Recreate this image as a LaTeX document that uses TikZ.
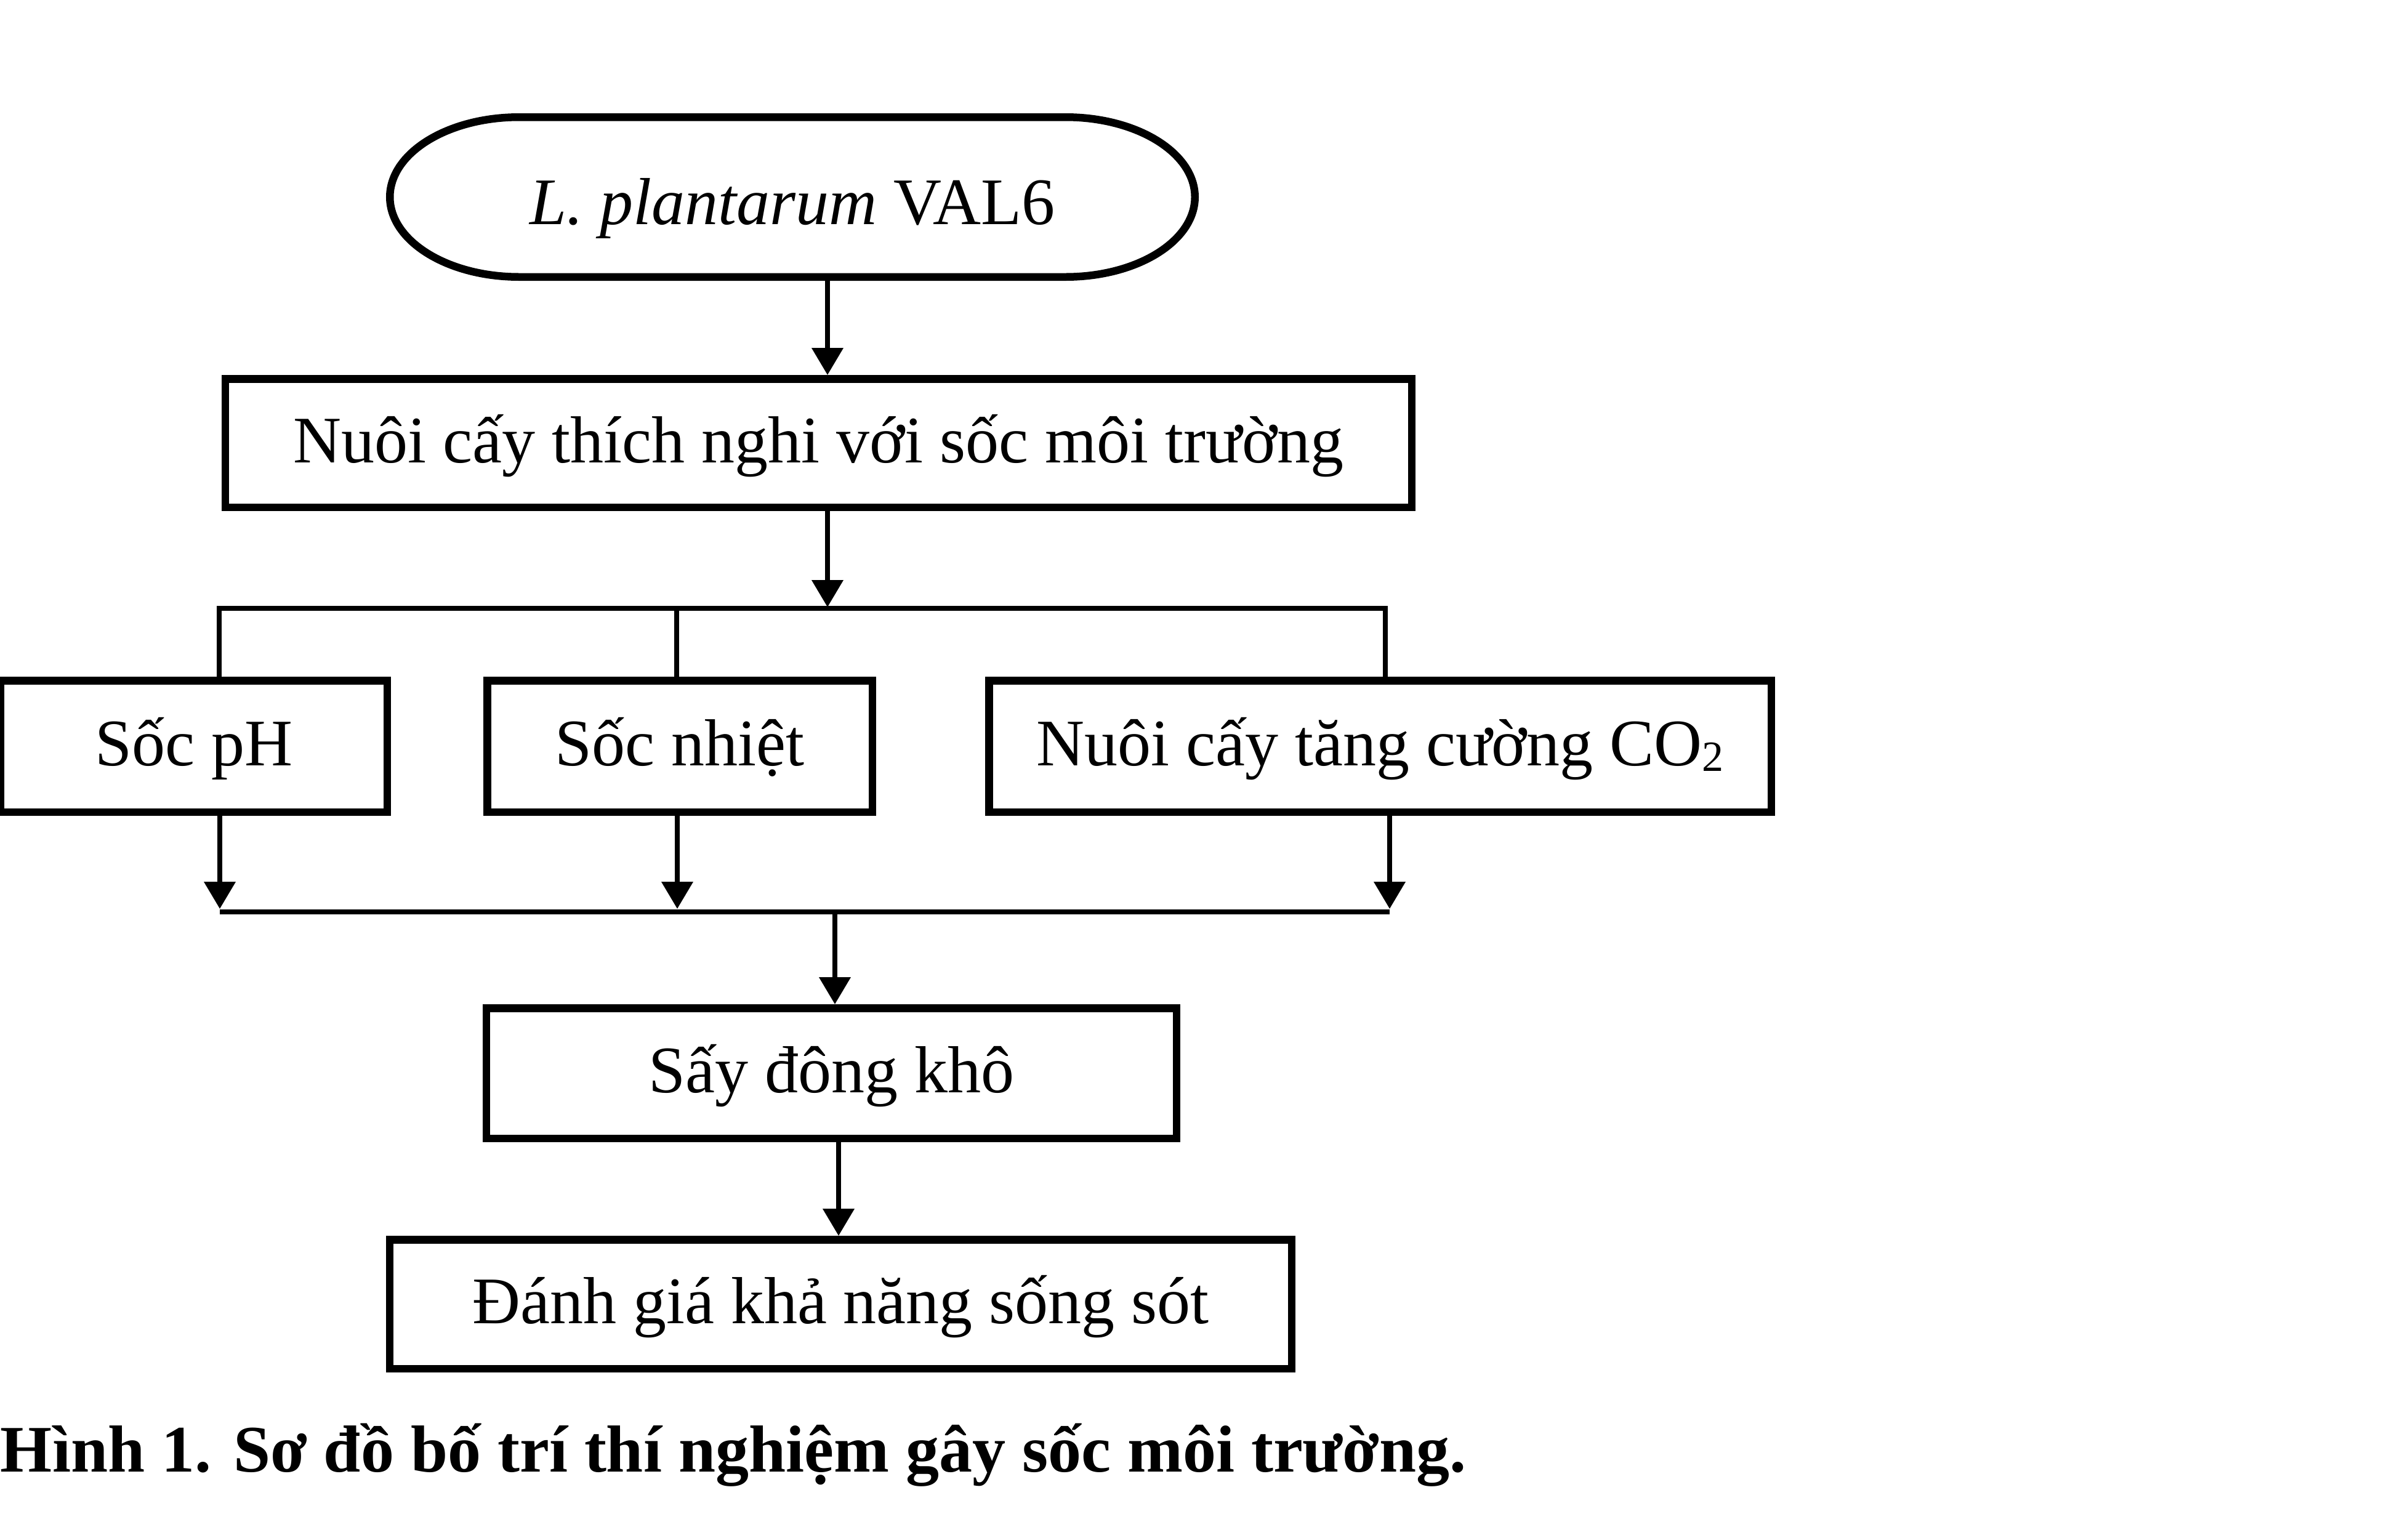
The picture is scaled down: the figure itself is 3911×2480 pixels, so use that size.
\documentclass[tikz,border=0pt]{standalone}
\usepackage{fontspec}
\setmainfont{Liberation Serif}
\usetikzlibrary{arrows.meta,calc}
\begin{document}
\begin{tikzpicture}[x=0.2pt,y=-0.2pt,
  boxline/.style={line width=2.5pt},
  stepbox/.style={draw,boxline,inner sep=0pt,align=center,
     font=\fontsize{21.6pt}{26pt}\selectfont,text height=17.6pt,text depth=5pt},
  conn/.style={line width=1.5pt},
  arr/.style={conn,-{Triangle[width=10pt,length=8.8pt]}}]
\useasboundingbox (0,0) rectangle (3911,2480);
% terminator
\node[inner sep=0pt,outer sep=0pt,minimum width=261.5pt,minimum height=51.9pt,
      font=\fontsize{21.6pt}{26pt}\selectfont,text height=22.6pt,text depth=5pt]
      (term) at (1287,320) {\textit{L. plantarum} VAL6};
\draw[boxline,line join=round] (term.north) -- ([xshift=-42pt]term.north east)
   arc[start angle=90,end angle=-90,x radius=42pt,y radius=25.95pt]
   -- ([xshift=42pt]term.south west)
   arc[start angle=270,end angle=90,x radius=42pt,y radius=25.95pt] -- cycle;
% boxes
\node[stepbox,minimum width=385.3pt,minimum height=41.7pt] (adapt) at (1329.5,719.5) {Nuôi cấy thích nghi với sốc môi trường};
\node[stepbox,minimum width=125.7pt,minimum height=42.7pt] (ph) at (314.75,1212) {Sốc pH};
\node[stepbox,minimum width=125.1pt,minimum height=42.7pt] (heat) at (1104,1212) {Sốc nhiệt};
\node[stepbox,minimum width=254.1pt,minimum height=42.7pt] (co2) at (2241.5,1212) {Nuôi cấy tăng cường CO\raisebox{-1.7pt}{\fontsize{14pt}{14pt}\selectfont 2}};
\node[stepbox,minimum width=224.1pt,minimum height=42.3pt] (dry) at (1350.5,1743) {Sấy đông khô};
\node[stepbox,minimum width=292.9pt,minimum height=41.9pt] (eval) at (1365.5,2118) {Đánh giá khả năng sống sót};
% caption
\node[anchor=base west,inner sep=0pt,font=\fontsize{21.6pt}{26pt}\selectfont\bfseries] (cap) at (0,2390) {Hình 1. Sơ đồ bố trí thí nghiệm gây sốc môi trường.};
% coordinates
\coordinate (c1) at (1344,0);
\coordinate (j1) at (1344,986);
\coordinate (b1l) at (356,988);
\coordinate (b1m) at (1099,988);
\coordinate (b1r) at (2250,988);
\coordinate (b2l) at (357,1481);
\coordinate (b2m) at (1100,1481);
\coordinate (b2r) at (2257,1481);
\coordinate (c2) at (1356,1481);
\coordinate (c3) at (1362,0);
% connectors
\draw[arr] ([yshift=-1.25pt]c1 |- term.south) -- (c1 |- adapt.north);
\draw[arr] (c1 |- adapt.south) -- (j1);
\draw[conn] (b1l |- ph.north) -- (b1l) -- (b1r) -- (b1r |- co2.north);
\draw[conn] (b1m) -- (b1m |- heat.north);
\draw[arr] (b2l |- ph.south) -- ([yshift=1pt]b2l);
\draw[arr] (b2m |- heat.south) -- ([yshift=1pt]b2m);
\draw[arr] (b2r |- co2.south) -- ([yshift=1pt]b2r);
\draw[conn] (b2l) -- (b2r);
\draw[arr] (c2) -- (c2 |- dry.north);
\draw[arr] (c3 |- dry.south) -- (c3 |- eval.north);
\end{tikzpicture}
\end{document}
